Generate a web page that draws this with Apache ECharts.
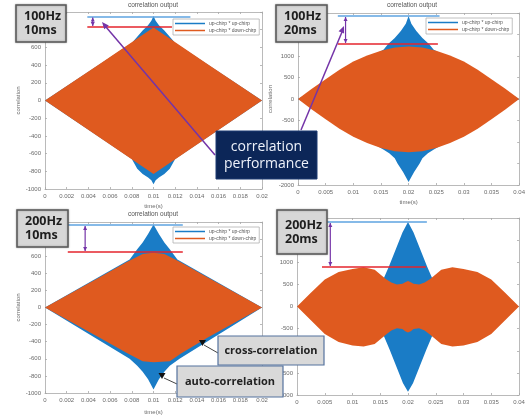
<!DOCTYPE html>
<html>
<head>
<meta charset="utf-8">
<script src="https://cdn.jsdelivr.net/npm/echarts@6/dist/echarts.min.js"></script>
<style>html,body{margin:0;padding:0;background:#fff;}</style>
</head>
<body>
<div id="main" style="width:528px;height:417px;"></div>
<script type="text/javascript">
// envelope of each correlation output, [time(s), correlation]
// 100Hz 10ms
var p1AutoTop = [[0,0],[0.008,650],[0.0085,720],[0.009,790],[0.0095,850],[0.0098,900],[0.01,955],[0.0102,900],[0.0105,850],[0.011,790],[0.0115,720],[0.012,650],[0.02,0]];
var p1AutoBot = [[0,0],[0.008,-660],[0.0085,-770],[0.009,-830],[0.0095,-870],[0.0098,-900],[0.01,-945],[0.0102,-900],[0.0105,-870],[0.011,-830],[0.0115,-770],[0.012,-660],[0.02,0]];
var p1CrossTop = [[0,0],[0.005,410],[0.01,825],[0.015,410],[0.02,0]];
var p1CrossBot = [[0,0],[0.005,-415],[0.01,-830],[0.015,-415],[0.02,0]];
// 100Hz 20ms
var p2AutoTop = [[0,0],[0.0155,1150],[0.0163,1280],[0.0175,1420],[0.0186,1580],[0.0195,1750],[0.02,1930],[0.0205,1750],[0.0214,1580],[0.0225,1420],[0.0237,1280],[0.0245,1150],[0.04,0]];
var p2AutoBot = [[0,0],[0.0155,-1180],[0.0165,-1260],[0.0175,-1380],[0.018,-1500],[0.019,-1700],[0.02,-1930],[0.021,-1700],[0.022,-1500],[0.0225,-1380],[0.0235,-1260],[0.0245,-1180],[0.04,0]];
var p2CrossTop = [[0,0],[0.0025,240],[0.005,460],[0.0075,680],[0.01,870],[0.0125,1010],[0.015,1125],[0.0175,1195],[0.02,1220],[0.0225,1195],[0.025,1125],[0.0275,1010],[0.03,870],[0.0325,680],[0.035,460],[0.0375,240],[0.04,0]];
var p2CrossBot = [[0,0],[0.0025,-245],[0.005,-470],[0.0075,-690],[0.01,-880],[0.0125,-1025],[0.015,-1140],[0.0175,-1215],[0.02,-1240],[0.0225,-1215],[0.025,-1140],[0.0275,-1025],[0.03,-880],[0.0325,-690],[0.035,-470],[0.0375,-245],[0.04,0]];
// 200Hz 10ms
var p3AutoTop = [[0,0],[0.0078,560],[0.0085,680],[0.009,760],[0.0095,860],[0.01,970],[0.0105,860],[0.011,760],[0.0115,680],[0.0122,560],[0.02,0]];
var p3AutoBot = [[0,0],[0.0078,-600],[0.0085,-680],[0.009,-750],[0.0095,-840],[0.01,-960],[0.0105,-840],[0.011,-750],[0.0115,-680],[0.0124,-600],[0.02,0]];
var p3CrossTop = [[0,0],[0.0025,175],[0.005,350],[0.0075,530],[0.009,625],[0.01,640],[0.011,625],[0.0125,530],[0.015,350],[0.0175,175],[0.02,0]];
var p3CrossBot = [[0,0],[0.0025,-175],[0.005,-350],[0.0075,-530],[0.009,-630],[0.01,-640],[0.0115,-630],[0.0125,-540],[0.015,-350],[0.0175,-175],[0.02,0]];
// 200Hz 20ms
var p4AutoTop = [[0,0],[0.0155,600],[0.0166,917],[0.0178,1295],[0.019,1674],[0.02,1910],[0.021,1674],[0.0222,1295],[0.0234,917],[0.0245,600],[0.04,0]];
var p4AutoBot = [[0,0],[0.0155,-620],[0.0167,-977],[0.0179,-1356],[0.0191,-1735],[0.02,-1925],[0.0209,-1735],[0.0221,-1356],[0.0233,-977],[0.0245,-620],[0.04,0]];
var p4CrossTop = [[0,0],[0.0025,310],[0.005,610],[0.0075,780],[0.01,850],[0.012,885],[0.014,830],[0.016,620],[0.017,540],[0.018,500],[0.019,515],[0.0195,550],[0.02,575],[0.0205,550],[0.021,515],[0.022,500],[0.023,540],[0.024,620],[0.026,830],[0.028,885],[0.03,850],[0.0325,780],[0.035,610],[0.0375,310],[0.04,0]];
var p4CrossBot = [[0,0],[0.0025,-310],[0.005,-620],[0.0075,-800],[0.01,-880],[0.012,-905],[0.014,-850],[0.016,-640],[0.017,-540],[0.018,-490],[0.019,-510],[0.0195,-560],[0.02,-590],[0.0205,-560],[0.021,-510],[0.022,-490],[0.023,-540],[0.024,-640],[0.026,-850],[0.028,-905],[0.03,-880],[0.0325,-800],[0.035,-620],[0.0375,-310],[0.04,0]];

var seriesNames = ['up-chirp * up-chirp', 'up-chirp * down-chirp'];
var panelLabels = ['100Hz\n10ms', '100Hz\n20ms', '200Hz\n10ms', '200Hz\n20ms'];
var xMax = [0.02, 0.04, 0.02, 0.04];
var xStep = [0.002, 0.005, 0.002, 0.005];
var yMax = [1000, 2000, 1000, 2000];
var yStep = [200, 500, 200, 500];
// peak levels marked on each panel (auto peak, cross peak) and the span of the marker lines
var peakAuto = [950, 1930, 965, 1910];
var peakCross = [830, 1280, 650, 890];
var markSpan = [[0.0039, 0.0134, 0.0117], [0.0072, 0.0256, 0.0253], [0.0021, 0.0127, 0.0127], [0.0045, 0.0234, 0.0232]];
var arrowAt = [0.0044, 0.0086, 0.0037, 0.006];

var envelopes = [
    [p1AutoTop, p1AutoBot, p1CrossTop, p1CrossBot],
    [p2AutoTop, p2AutoBot, p2CrossTop, p2CrossBot],
    [p3AutoTop, p3AutoBot, p3CrossTop, p3CrossBot],
    [p4AutoTop, p4AutoBot, p4CrossTop, p4CrossBot]
];

var blue = '#1a7cc6';
var orange = '#df5a1f';
var purple = '#7434a8';

var grids = [
    {left: 45, top: 12, width: 217, height: 177},
    {left: 298, top: 13, width: 228, height: 172},
    {left: 45, top: 222, width: 217, height: 171},
    {left: 297, top: 218, width: 222, height: 177}
];

var xAxes = [], yAxes = [], series = [];
var labelStyle = {fontSize: 6, color: '#6a6a6a', fontFamily: 'Liberation Sans'};
var lineStyle = {color: '#a8a8a8', width: 0.8};

for (var i = 0; i < 4; i++) {
    xAxes.push({
        type: 'value', gridIndex: i, min: 0, max: xMax[i], interval: xStep[i],
        name: i < 3 ? 'time(s)' : '', nameLocation: 'middle', nameGap: i < 2 ? 14 : 16,
        nameTextStyle: labelStyle,
        axisLine: {onZero: false, lineStyle: lineStyle},
        axisTick: {inside: true, length: 2, lineStyle: lineStyle},
        axisLabel: Object.assign({margin: 4, formatter: function (v) { return String(v); }}, labelStyle),
        splitLine: {show: false}
    });
    yAxes.push({
        type: 'value', gridIndex: i, min: -yMax[i], max: yMax[i], interval: yStep[i],
        name: i < 3 ? 'correlation' : '', nameLocation: 'middle', nameGap: i == 1 ? 25 : 23,
        nameTextStyle: labelStyle,
        axisLine: {onZero: false, lineStyle: lineStyle},
        axisTick: {inside: true, length: 2, lineStyle: lineStyle},
        axisLabel: Object.assign({margin: 4, formatter: function (v) { return String(v); }}, labelStyle),
        splitLine: {show: false}
    });
}
// top / right box edges with inner ticks
for (var i = 0; i < 4; i++) {
    xAxes.push({
        type: 'value', gridIndex: i, position: 'top', min: 0, max: xMax[i], interval: xStep[i],
        axisLine: {onZero: false, lineStyle: lineStyle},
        axisTick: {inside: true, length: 2, lineStyle: lineStyle},
        axisLabel: {show: false}, splitLine: {show: false}
    });
    yAxes.push({
        type: 'value', gridIndex: i, position: 'right', min: -yMax[i], max: yMax[i], interval: yStep[i],
        axisLine: {onZero: false, lineStyle: lineStyle},
        axisTick: {inside: true, length: 2, lineStyle: lineStyle},
        axisLabel: {show: false}, splitLine: {show: false}
    });
}

// one filled polygon between the upper and lower envelope
function band(name, color, top, bot, i, z) {
    var outline = top.concat(bot.slice().reverse());
    return {
        name: name, type: 'custom', xAxisIndex: i, yAxisIndex: i, z: z,
        data: top.concat(bot), silent: true, animation: false, clip: true,
        itemStyle: {color: color},
        renderItem: function (params, api) {
            if (params.dataIndex !== 0) return null;
            return {
                type: 'polygon',
                shape: {points: outline.map(function (p) { return api.coord(p); })},
                style: {fill: color}
            };
        }
    };
}

for (var i = 0; i < 4; i++) {
    var env = envelopes[i];
    series.push(band(seriesNames[0], blue, env[0], env[1], i, 2));
    var cross = band(seriesNames[1], orange, env[2], env[3], i, 3);
    cross.markLine = {
        silent: true, symbol: 'none', animation: false, label: {show: false},
        data: [
            [{coord: [markSpan[i][0], peakAuto[i]], lineStyle: {color: '#5ea3e0', width: 1.6, type: 'solid'}}, {coord: [markSpan[i][1], peakAuto[i]]}],
            [{coord: [markSpan[i][0], peakCross[i]], lineStyle: {color: '#e4252d', width: 1.6, type: 'solid'}}, {coord: [markSpan[i][2], peakCross[i]]}]
        ]
    };
    series.push(cross);
}

function legendAt(left, top) {
    return {
        left: left, top: top, orient: 'vertical', selectedMode: false,
        data: seriesNames, icon: 'rect', itemWidth: 30, itemHeight: 1.5, itemGap: 2,
        padding: [2, 3, 2, 2], backgroundColor: '#fff', borderColor: '#b0b0b0', borderWidth: 0.8,
        textStyle: {fontSize: 5, color: '#555', padding: [0, 0, 0, -1]}
    };
}

function titleAt(x, y) {
    return {
        text: 'correlation output', left: x, top: y, textAlign: 'center', padding: 0,
        textStyle: {fontSize: 6.5, fontWeight: 'normal', color: '#555', fontFamily: 'Liberation Sans'}
    };
}

var option = {
    animation: false,
    title: [titleAt(153, 2), titleAt(412, 2), titleAt(153, 211)],
    legend: [legendAt(173, 19), legendAt(426, 18), legendAt(173, 227)],
    grid: grids,
    xAxis: xAxes,
    yAxis: yAxes,
    series: series
};

var myChart = echarts.init(document.getElementById('main'));
myChart.setOption(option);

// ---- overlay annotations ----
function head(x1, y1, x2, y2, len, w) {
    var dx = x2 - x1, dy = y2 - y1, d = Math.sqrt(dx * dx + dy * dy);
    var ux = dx / d, uy = dy / d;
    var bx = x2 - ux * len, by = y2 - uy * len;
    return {type: 'polygon', z: 100, shape: {points: [[x2, y2], [bx - uy * w, by + ux * w], [bx + uy * w, by - ux * w]]}, style: {fill: purple}};
}
function line(x1, y1, x2, y2, color, width) {
    return {type: 'line', z: 100, shape: {x1: x1, y1: y1, x2: x2, y2: y2}, style: {stroke: color, lineWidth: width}};
}

var g = [];
// double arrows between the two peak levels
for (var i = 0; i < 4; i++) {
    var a = myChart.convertToPixel({xAxisIndex: i, yAxisIndex: i}, [arrowAt[i], peakAuto[i]]);
    var b = myChart.convertToPixel({xAxisIndex: i, yAxisIndex: i}, [arrowAt[i], peakCross[i]]);
    g.push(line(a[0], a[1] + 1, b[0], b[1] - 1, purple, 1.2));
    g.push(head(b[0], b[1], a[0], a[1] + 1, 4, 2));
    g.push(head(a[0], a[1], b[0], b[1] - 1, 4, 2));
}
// arrows from the "correlation performance" box
g.push(line(215, 155, 106, 27, purple, 1.5));
g.push(head(215, 155, 102, 22, 7, 3));
g.push(line(301, 130, 342, 32, purple, 1.5));
g.push(head(301, 130, 344, 26, 7, 3));

// panel label boxes
var boxes = [[16, 5, 50, 37], [276, 5, 51, 37], [17, 210, 51, 37], [277, 210, 50, 44]];
for (var i = 0; i < 4; i++) {
    var bx = boxes[i];
    g.push({type: 'rect', z: 101, shape: {x: bx[0], y: bx[1], width: bx[2], height: bx[3]},
        style: {fill: '#d7d7d7', stroke: '#5a5a5a', lineWidth: 1.5, shadowBlur: 2, shadowColor: 'rgba(0,0,0,0.3)'}});
    g.push({type: 'text', z: 102, x: bx[0] + 8, y: bx[1] + bx[3] / 2,
        style: {text: panelLabels[i], fill: '#1e1e1e', fontSize: 12.5, fontWeight: 'bold', fontFamily: 'Open Sans',
            lineHeight: 14, textAlign: 'left', textVerticalAlign: 'middle'}});
}

// correlation performance
g.push({type: 'rect', z: 103, shape: {x: 216, y: 131, width: 101, height: 48}, style: {fill: '#0c2658', stroke: '#1d3a73', lineWidth: 1}});
g.push({type: 'text', z: 104, x: 266.5, y: 156,
    style: {text: 'correlation\nperformance', fill: '#eef2fa', fontSize: 14, fontFamily: 'Open Sans',
        lineHeight: 17, textAlign: 'center', textVerticalAlign: 'middle'}});

// cross / auto correlation callouts
g.push(line(204, 345, 218, 353, '#444', 1));
g.push({type: 'polygon', z: 101, shape: {points: [[199, 340], [206, 340], [202.5, 346]]}, style: {fill: '#111'}});
g.push({type: 'rect', z: 101, shape: {x: 218, y: 336, width: 106, height: 29}, style: {fill: '#d9d9d9', stroke: '#55729e', lineWidth: 1.2}});
g.push({type: 'text', z: 102, x: 271, y: 351,
    style: {text: 'cross-correlation', fill: '#222', fontSize: 11, fontWeight: 'bold', fontFamily: 'Open Sans',
        textAlign: 'center', textVerticalAlign: 'middle'}});
g.push(line(164, 378, 177, 384, '#444', 1));
g.push({type: 'polygon', z: 101, shape: {points: [[158.5, 373], [165.5, 373], [162, 379]]}, style: {fill: '#111'}});
g.push({type: 'rect', z: 103, shape: {x: 177, y: 366, width: 106, height: 31}, style: {fill: '#d9d9d9', stroke: '#55729e', lineWidth: 1.2}});
g.push({type: 'text', z: 104, x: 230, y: 382,
    style: {text: 'auto-correlation', fill: '#222', fontSize: 11, fontWeight: 'bold', fontFamily: 'Open Sans',
        textAlign: 'center', textVerticalAlign: 'middle'}});

myChart.setOption({graphic: g});
</script>
</body>
</html>
